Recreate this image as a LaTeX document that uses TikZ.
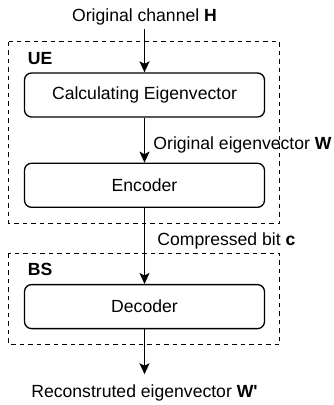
\documentclass[tikz,border=0pt]{standalone}
\usepackage{fontspec}
\setmainfont{Liberation Sans}
\usetikzlibrary{positioning, arrows.meta, calc}

\begin{document}
\begin{tikzpicture}[x=1pt, y=1pt, node distance=45pt,
		every node/.style={font=\fontsize{17.6}{21}\selectfont},
		block/.style={draw, line width=1.3pt, rounded corners=7pt, minimum width=240pt, minimum height=44pt, inner sep=0pt},
		group/.style={draw, line width=1.2pt, dash pattern=on 4.5pt off 4pt},
		grouplbl/.style={font=\fontsize{17.6}{21}\selectfont\bfseries, inner sep=0pt, anchor=base west},
		flow/.style={-{Stealth[length=11pt, width=10pt, inset=2.5pt]}, line width=1.3pt},
		elbl/.style={anchor=west}]
		\useasboundingbox (0,0) rectangle (334,-405);
		\node[anchor=base] (chan) at (144.5,-21.7) {Original channel \textbf{H}};
		\node[block] (calc) at (144.5,-95) {Calculating Eigenvector};
		\node[block, below=of calc] (enc) {Encoder};
		\node[block, below=76pt of enc] (dec) {Decoder};
		\node[below=45pt of dec, inner ysep=10pt] (rec) {Reconstruted eigenvector \textbf{W\textquotesingle}};
		
		\node[grouplbl] (uelbl) at ($(calc.north west)+(3.8,8)$) {UE};
		\node[grouplbl] (bslbl) at ($(dec.north west)+(3.8,8)$) {BS};
		\draw[group] ($(calc.north west)+(-15,30.5)$) rectangle ($(enc.south east)+(14.5,-15.5)$);
		\draw[group] ($(dec.north west)+(-15,30.5)$) rectangle ($(dec.south east)+(14.5,-15.5)$);
		
		\draw[flow] (chan) -- (calc);
		\draw[flow] (calc) -- node[elbl, pos=0.6, xshift=5pt] {Original eigenvector \textbf{W}} (enc);
		\draw[flow] (enc) -- node[elbl, pos=0.44, xshift=9pt] {Compressed bit \textbf{c}} (dec);
		\draw[flow] (dec) -- (rec);
		
	\end{tikzpicture}
\end{document}
